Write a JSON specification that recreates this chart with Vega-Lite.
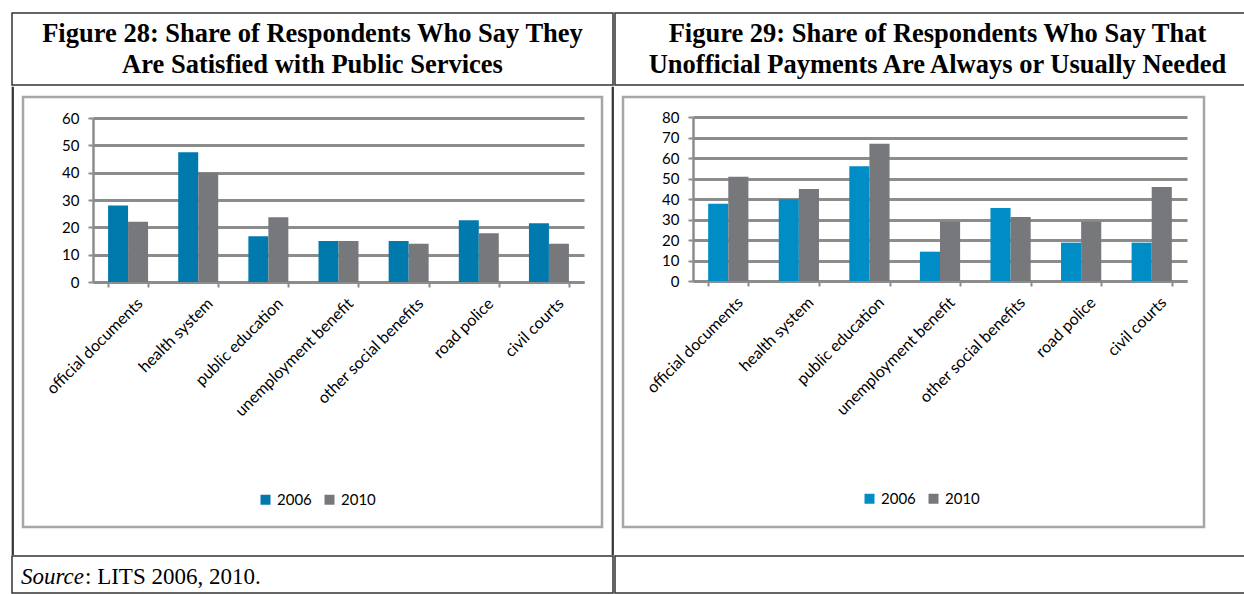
{
  "$schema": "https://vega.github.io/schema/vega-lite/v6.json",
  "padding": {"left": 11, "top": 12, "right": 0, "bottom": 0},
  "config": {
    "view": {"stroke": "#333333", "strokeWidth": 1.5},
    "font": "Lato"
  },
  "datasets": {
    "satisfied": [
      {"service": "official documents", "year": "2006", "value": 28},
      {"service": "official documents", "year": "2010", "value": 22},
      {"service": "health system", "year": "2006", "value": 47.5},
      {"service": "health system", "year": "2010", "value": 40},
      {"service": "public education", "year": "2006", "value": 16.7},
      {"service": "public education", "year": "2010", "value": 23.7},
      {"service": "unemployment benefit", "year": "2006", "value": 15},
      {"service": "unemployment benefit", "year": "2010", "value": 15},
      {"service": "other social benefits", "year": "2006", "value": 15},
      {"service": "other social benefits", "year": "2010", "value": 14},
      {"service": "road police", "year": "2006", "value": 22.6},
      {"service": "road police", "year": "2010", "value": 17.8},
      {"service": "civil courts", "year": "2006", "value": 21.5},
      {"service": "civil courts", "year": "2010", "value": 14}
    ],
    "payments": [
      {"service": "official documents", "year": "2006", "value": 37.7},
      {"service": "official documents", "year": "2010", "value": 50.8},
      {"service": "health system", "year": "2006", "value": 39.9},
      {"service": "health system", "year": "2010", "value": 44.9},
      {"service": "public education", "year": "2006", "value": 56},
      {"service": "public education", "year": "2010", "value": 66.9},
      {"service": "unemployment benefit", "year": "2006", "value": 14.3},
      {"service": "unemployment benefit", "year": "2010", "value": 28.9},
      {"service": "other social benefits", "year": "2006", "value": 35.6},
      {"service": "other social benefits", "year": "2010", "value": 31.2},
      {"service": "road police", "year": "2006", "value": 18.7},
      {"service": "road police", "year": "2010", "value": 28.9},
      {"service": "civil courts", "year": "2006", "value": 18.7},
      {"service": "civil courts", "year": "2010", "value": 45.8}
    ]
  },
  "spacing": 0,
  "resolve": {"scale": {"color": "independent", "x": "independent", "y": "independent", "xOffset": "independent"}},
  "vconcat": [
    {
      "spacing": 0,
      "hconcat": [
        {
          "width": 601, "height": 72,
          "view": {"stroke": "#333333", "strokeWidth": 1.5},
          "data": {"values": [{"t": "Figure 28: Share of Respondents Who Say They\nAre Satisfied with Public Services"}]},
          "mark": {"type": "text", "font": "Liberation Serif", "fontWeight": "bold", "fontSize": 26.5, "lineBreak": "\n", "lineHeight": 31, "baseline": "middle", "align": "center", "dy": -15.5, "color": "#000000"},
          "encoding": {"text": {"field": "t", "type": "nominal"}}
        },
        {
          "width": 631, "height": 72,
          "view": {"stroke": "#333333", "strokeWidth": 1.5},
          "data": {"values": [{"t": "Figure 29: Share of Respondents Who Say That\nUnofficial Payments Are Always or Usually Needed"}]},
          "mark": {"type": "text", "font": "Liberation Serif", "fontWeight": "bold", "fontSize": 26.5, "lineBreak": "\n", "lineHeight": 31, "baseline": "middle", "align": "center", "dx": 7, "dy": -15.5, "color": "#000000"},
          "encoding": {"text": {"field": "t", "type": "nominal"}}
        }
      ]
    },
    {
      "spacing": 7,
      "resolve": {"scale": {"color": "independent", "x": "independent", "y": "independent", "xOffset": "independent"}},
      "hconcat": [
        {"width": 1, "height": 467, "view": {"stroke": "#333333", "strokeWidth": 1.2}, "data": {"values": []}, "mark": "text"},
        {
          "spacing": 0,
          "vconcat": [
            {"width": 579, "height": 8, "view": {"stroke": null}, "data": {"values": []}, "mark": "text"},
            {
              "width": 579, "height": 430,
              "view": {"stroke": "#A6A6A6", "strokeWidth": 2.5},
              "data": {"name": "satisfied"},
              "mark": {"type": "bar"},
              "encoding": {
                "x": {"field": "service", "type": "nominal", "sort": null,
                  "scale": {"range": [70, 561], "paddingInner": 0.43, "paddingOuter": 0.215},
                  "axis": {"title": null, "labelAngle": -45, "offset": -245, "tickBand": "extent", "domainColor": "#8C8C8C", "domainWidth": 2.5, "tickColor": "#8C8C8C", "tickWidth": 2, "tickSize": 5, "labelFontSize": 16, "labelColor": "#000000", "labelPadding": 8, "labelOffset": 6, "labelLimit": 0}},
                "xOffset": {"field": "year", "type": "nominal"},
                "y": {"field": "value", "type": "quantitative",
                  "scale": {"domain": [0, 60], "range": [185, 21], "nice": false},
                  "axis": {"title": null, "values": [0, 10, 20, 30, 40, 50, 60], "offset": -70, "grid": true, "gridColor": "#8C8C8C", "gridWidth": 3, "domainColor": "#8C8C8C", "domainWidth": 2.5, "tickColor": "#8C8C8C", "tickWidth": 2, "tickSize": 5, "labelFontSize": 15, "labelColor": "#000000", "labelPadding": 9}},
                "color": {"field": "year", "type": "nominal",
                  "scale": {"range": ["#0079AD", "#77787B"]},
                  "legend": {"title": null, "orient": "none", "legendX": 235, "legendY": 405, "direction": "horizontal", "symbolType": "square", "symbolSize": 100, "symbolStrokeWidth": 0, "labelFontSize": 15, "labelColor": "#000000", "columnPadding": 10}}
              }
            }
          ]
        },
        {"width": 1, "height": 467, "view": {"stroke": "#333333", "strokeWidth": 1.2}, "data": {"values": []}, "mark": "text"},
        {
          "spacing": 0,
          "vconcat": [
            {"width": 581, "height": 8, "view": {"stroke": null}, "data": {"values": []}, "mark": "text"},
            {
              "width": 581, "height": 430,
              "view": {"stroke": "#A6A6A6", "strokeWidth": 2.5},
              "data": {"name": "payments"},
              "mark": {"type": "bar"},
              "encoding": {
                "x": {"field": "service", "type": "nominal", "sort": null,
                  "scale": {"range": [70, 564], "paddingInner": 0.43, "paddingOuter": 0.215},
                  "axis": {"title": null, "labelAngle": -45, "offset": -246, "tickBand": "extent", "domainColor": "#8C8C8C", "domainWidth": 2.5, "tickColor": "#8C8C8C", "tickWidth": 2, "tickSize": 5, "labelFontSize": 16, "labelColor": "#000000", "labelPadding": 8, "labelOffset": 6, "labelLimit": 0}},
                "xOffset": {"field": "year", "type": "nominal"},
                "y": {"field": "value", "type": "quantitative",
                  "scale": {"domain": [0, 80], "range": [184, 20], "nice": false},
                  "axis": {"title": null, "values": [0, 10, 20, 30, 40, 50, 60, 70, 80], "offset": -70, "grid": true, "gridColor": "#8C8C8C", "gridWidth": 3, "domainColor": "#8C8C8C", "domainWidth": 2.5, "tickColor": "#8C8C8C", "tickWidth": 2, "tickSize": 5, "labelFontSize": 15, "labelColor": "#000000", "labelPadding": 9}},
                "color": {"field": "year", "type": "nominal",
                  "scale": {"range": ["#008CC4", "#77787B"]},
                  "legend": {"title": null, "orient": "none", "legendX": 239, "legendY": 404, "direction": "horizontal", "symbolType": "square", "symbolSize": 100, "symbolStrokeWidth": 0, "labelFontSize": 15, "labelColor": "#000000", "columnPadding": 10}}
              }
            }
          ]
        }
      ]
    },
    {
      "spacing": 0,
      "hconcat": [
        {
          "width": 601, "height": 37,
          "view": {"stroke": "#333333", "strokeWidth": 1.5},
          "data": {"values": [{"label": "Source", "rest": ": LITS 2006, 2010."}]},
          "encoding": {"x": {"field": "label", "type": "nominal", "axis": null, "scale": {"type": "point", "padding": 0, "align": 0}}},
          "layer": [
            {"mark": {"type": "text", "align": "left", "baseline": "middle", "dx": 9, "dy": 2, "font": "Liberation Serif", "fontStyle": "italic", "fontSize": 23, "color": "#000000"},
             "encoding": {"text": {"field": "label", "type": "nominal"}}},
            {"mark": {"type": "text", "align": "left", "baseline": "middle", "dx": 73, "dy": 2, "font": "Liberation Serif", "fontSize": 23, "color": "#000000"},
             "encoding": {"text": {"field": "rest", "type": "nominal"}}}
          ]
        },
        {"width": 631, "height": 37, "view": {"stroke": "#333333", "strokeWidth": 1.5}, "data": {"values": []}, "mark": "text"}
      ]
    }
  ]
}
